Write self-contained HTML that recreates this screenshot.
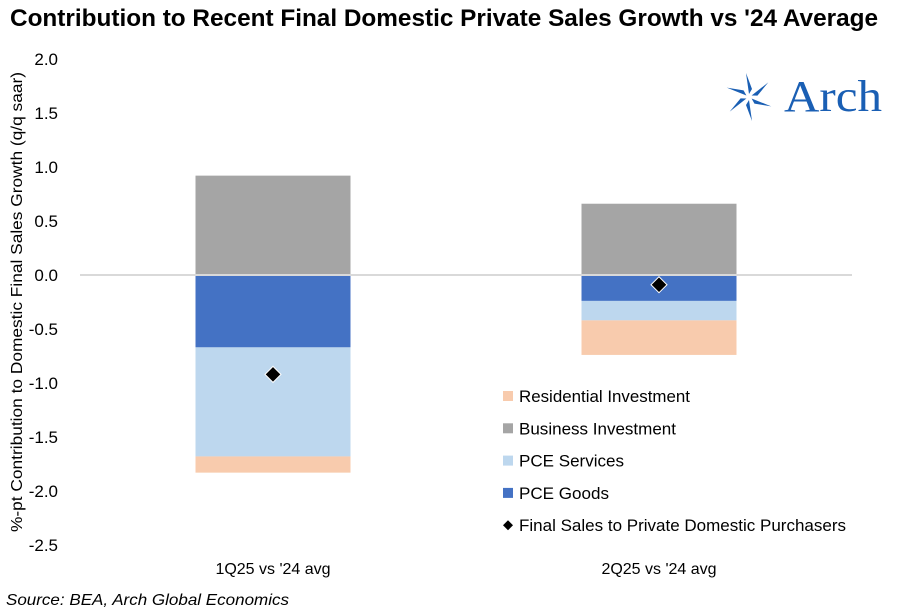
<!DOCTYPE html>
<html><head><meta charset="utf-8"><style>
html,body{margin:0;padding:0;background:#fff;width:898px;height:610px;overflow:hidden}
svg{display:block;font-family:"Liberation Sans",Arial,sans-serif}
</style></head><body>
<svg id="chart" width="898" height="610" viewBox="0 0 898 610" xmlns="http://www.w3.org/2000/svg">
<text x="10" y="26" font-size="24" font-weight="bold" textLength="868" lengthAdjust="spacingAndGlyphs" fill="#000">Contribution to Recent Final Domestic Private Sales Growth vs '24 Average</text>
<text transform="translate(22,302) rotate(-90)" text-anchor="middle" font-size="16" textLength="460" lengthAdjust="spacingAndGlyphs" fill="#000">%-pt Contribution to Domestic Final Sales Growth (q/q saar)</text>
<g id="yticks"></g>
<g id="bars"></g>
<line id="zero" x1="80" x2="852" stroke="#d9d9d9" stroke-width="2"/>
<g id="points"></g>
<g id="xlabels"></g>
<g id="legend"></g>
<g>
  <g transform="translate(749,97)" fill="#1a5fb4">
    <polygon points="0,-3 -3,-24 3,-8" transform="rotate(0)"/>
    <polygon points="0,-3 -3,-24 3,-8" transform="rotate(60)"/>
    <polygon points="0,-3 -3,-24 3,-8" transform="rotate(120)"/>
    <polygon points="0,-3 -3,-24 3,-8" transform="rotate(180)"/>
    <polygon points="0,-3 -3,-24 3,-8" transform="rotate(240)"/>
    <polygon points="0,-3 -3,-24 3,-8" transform="rotate(300)"/>
  </g>
  <text x="784" y="111" font-family="Liberation Serif,serif" font-size="44" fill="#1a5fb4" textLength="98" lengthAdjust="spacingAndGlyphs">Arch</text>
</g>
<text x="6" y="605" font-size="16" font-style="italic" textLength="283" lengthAdjust="spacingAndGlyphs" fill="#000">Source: BEA, Arch Global Economics</text>
</svg>
<script>
const categories = ["1Q25 vs '24 avg", "2Q25 vs '24 avg"];
const seriesNames = ["PCE Goods", "PCE Services", "Residential Investment", "Business Investment"];
const pceGoods = [-0.67, -0.24];
const pceServices = [-1.01, -0.18];
const residential = [-0.15, -0.32];
const business = [0.92, 0.66];
const totals = [-0.92, -0.09];
const yTicks = [2.0, 1.5, 1.0, 0.5, 0.0, -0.5, -1.0, -1.5, -2.0, -2.5];

const NS = "http://www.w3.org/2000/svg";
const y0 = 275, unit = 108;
function yS(v){ return y0 - v*unit; }
const plotL = 80, plotR = 852, bw = 155;
function xC(i){ return plotL + (plotR-plotL)/categories.length*(i+0.5); }
function mk(tag, attrs, parent){ const e=document.createElementNS(NS,tag); for(const k in attrs) e.setAttribute(k,attrs[k]); parent.appendChild(e); return e; }

const yt = document.getElementById('yticks');
yTicks.forEach(v=>{
  const t = mk('text',{x:58,y:yS(v)+6,'text-anchor':'end','font-size':17,fill:'#000'},yt);
  
  
  t.textContent = v.toFixed(1);
});
document.getElementById('zero').setAttribute('y1', yS(0));
document.getElementById('zero').setAttribute('y2', yS(0));

const bars = document.getElementById('bars');
const colors = {goods:'#4472c4', services:'#bdd7ee', res:'#f8cbad', bus:'#a5a5a5'};
categories.forEach((c,i)=>{
  const x = xC(i) - bw/2;
  // positive: business
  const r1 = mk('rect',{x:x,y:yS(business[i]),width:bw,height:yS(0)-yS(business[i]),fill:colors.bus},bars);
  
  
  let base = 0;
  [[pceGoods,colors.goods,'bar-pce-goods'],[pceServices,colors.services,'bar-pce-services'],[residential,colors.res,'bar-residential-investment']].forEach(([arr,col,nm])=>{
    const top = base, bot = base + arr[i];
    const r = mk('rect',{x:x,y:yS(top),width:bw,height:yS(bot)-yS(top),fill:col},bars);
    
    
    base = bot;
  });
  const lbl = mk('text',{x:xC(i),y:574,'text-anchor':'middle','font-size':16,fill:'#000'},document.getElementById('xlabels'));
  
  
  lbl.textContent = c;
  const py = yS(totals[i]), px = xC(i);
  const d = mk('polygon',{points:`${px},${py-8} ${px+8},${py} ${px},${py+8} ${px-8},${py}`,fill:'#000',stroke:'#fff','stroke-width':1},document.getElementById('points'));
  
  
});

const lg = document.getElementById('legend');
const items = [["Residential Investment",colors.res,'sq'],["Business Investment",colors.bus,'sq'],["PCE Services",colors.services,'sq'],["PCE Goods",colors.goods,'sq'],["Final Sales to Private Domestic Purchasers",'#000','dia']];
const widths = [171,157,105,90,327];
items.forEach((it,k)=>{
  const cy = 396 + k*32.3;
  const g = mk('g',{},lg);
  
  
  if(it[2]==='sq') mk('rect',{x:503,y:cy-5,width:10,height:10,fill:it[1]},g);
  else mk('polygon',{points:`508,${cy-5} 513,${cy} 508,${cy+5} 503,${cy}`,fill:'#000'},g);
  const t = mk('text',{x:519,y:cy+6,'font-size':17,fill:'#000',textLength:widths[k],lengthAdjust:'spacingAndGlyphs'},g);
  t.textContent = it[0];
});
</script>
</body></html>
